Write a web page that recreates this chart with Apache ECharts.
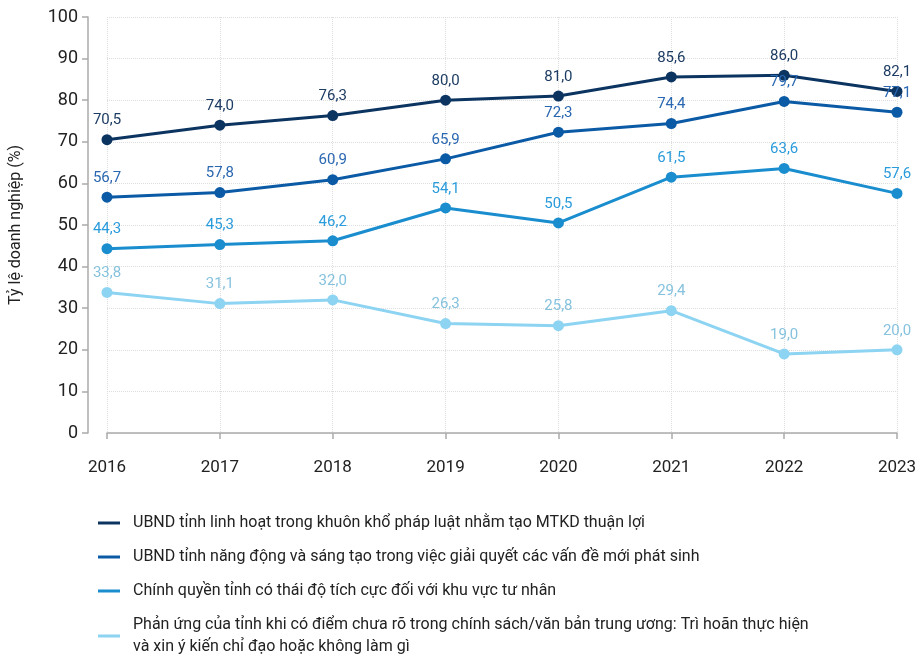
<!DOCTYPE html>
<html>
<head>
<meta charset="utf-8">
<script src="https://cdn.jsdelivr.net/npm/echarts@6/dist/echarts.min.js"></script>
<style>
  html, body { margin: 0; padding: 0; background: #fff; }
  #chart { width: 923px; height: 655px; }
</style>
</head>
<body>
<div id="chart"></div>
<script>
const years = ['2016', '2017', '2018', '2019', '2020', '2021', '2022', '2023']
const names = [
  'UBND tỉnh linh hoạt trong khuôn khổ pháp luật nhằm tạo MTKD thuận lợi',
  'UBND tỉnh năng động và sáng tạo trong việc giải quyết các vấn đề mới phát sinh',
  'Chính quyền tỉnh có thái độ tích cực đối với khu vực tư nhân',
  'Phản ứng của tỉnh khi có điểm chưa rõ trong chính sách/văn bản trung ương: Trì hoãn thực hiện\nvà xin ý kiến chỉ đạo hoặc không làm gì'
]
const flexible = [70.5, 74.0, 76.3, 80.0, 81.0, 85.6, 86.0, 82.1]
const dynamic = [56.7, 57.8, 60.9, 65.9, 72.3, 74.4, 79.7, 77.1]
const positive = [44.3, 45.3, 46.2, 54.1, 50.5, 61.5, 63.6, 57.6]
const delay = [33.8, 31.1, 32.0, 26.3, 25.8, 29.4, 19.0, 20.0]

const lineColors = ['#0c3461', '#0b5aa6', '#1a8dcf', '#8dd3f2']
const labelColors = ['#1d3c63', '#2a67b1', '#2a9bdb', '#86c2de']

const font = 'Roboto, "Noto Sans", sans-serif'
const chart = echarts.init(document.getElementById('chart'))

function makeSeries(i, data) {
  return {
    name: names[i],
    type: 'line',
    data: data,
    symbol: 'circle',
    symbolSize: 11,
    lineStyle: { color: lineColors[i], width: 3 },
    itemStyle: { color: lineColors[i] },
    label: {
      show: true,
      position: 'top',
      distance: 6,
      color: labelColors[i],
      fontFamily: font,
      fontSize: 15,
      formatter: p => p.value.toFixed(1).replace('.', ',')
    }
  }
}

chart.setOption({
  animation: false,
  textStyle: { fontFamily: font },
  grid: { left: 107, right: 26, top: 17, bottom: 222 },
  xAxis: {
    type: 'category',
    data: years,
    boundaryGap: false,
    offset: 14,
    axisLine: { lineStyle: { color: '#aaa', width: 1.5 } },
    axisTick: { lineStyle: { color: '#aaa', width: 1.5 }, length: 6 },
    axisLabel: { color: '#222', fontSize: 17, margin: 12 },
    splitLine: { show: true, lineStyle: { color: '#ddd', type: 'dotted' } }
  },
  yAxis: {
    type: 'value',
    min: 0,
    max: 100,
    interval: 10,
    offset: 19,
    name: 'Tỷ lệ doanh nghiệp (%)',
    nameLocation: 'middle',
    nameGap: 64,
    nameTextStyle: { color: '#222', fontSize: 16 },
    axisLine: { show: true, lineStyle: { color: '#aaa', width: 1.5 } },
    axisTick: { show: true, lineStyle: { color: '#aaa', width: 1.5 }, length: 6 },
    axisLabel: { color: '#222', fontSize: 18, margin: 10 },
    splitLine: { lineStyle: { color: '#ddd', type: 'dotted' } }
  },
  legend: {
    orient: 'vertical',
    left: 93,
    top: 510,
    height: 400,
    padding: [2, 5, 0, 5],
    itemWidth: 22,
    itemHeight: 3,
    itemGap: 12,
    icon: 'rect',
    textStyle: { color: '#222', fontSize: 16, lineHeight: 22, padding: [0, 0, 0, 8] },
    data: names.map((n, i) => ({ name: n, itemStyle: { color: lineColors[i] } }))
  },
  series: [
    makeSeries(0, flexible),
    makeSeries(1, dynamic),
    makeSeries(2, positive),
    makeSeries(3, delay)
  ]
})
</script>
</body>
</html>
